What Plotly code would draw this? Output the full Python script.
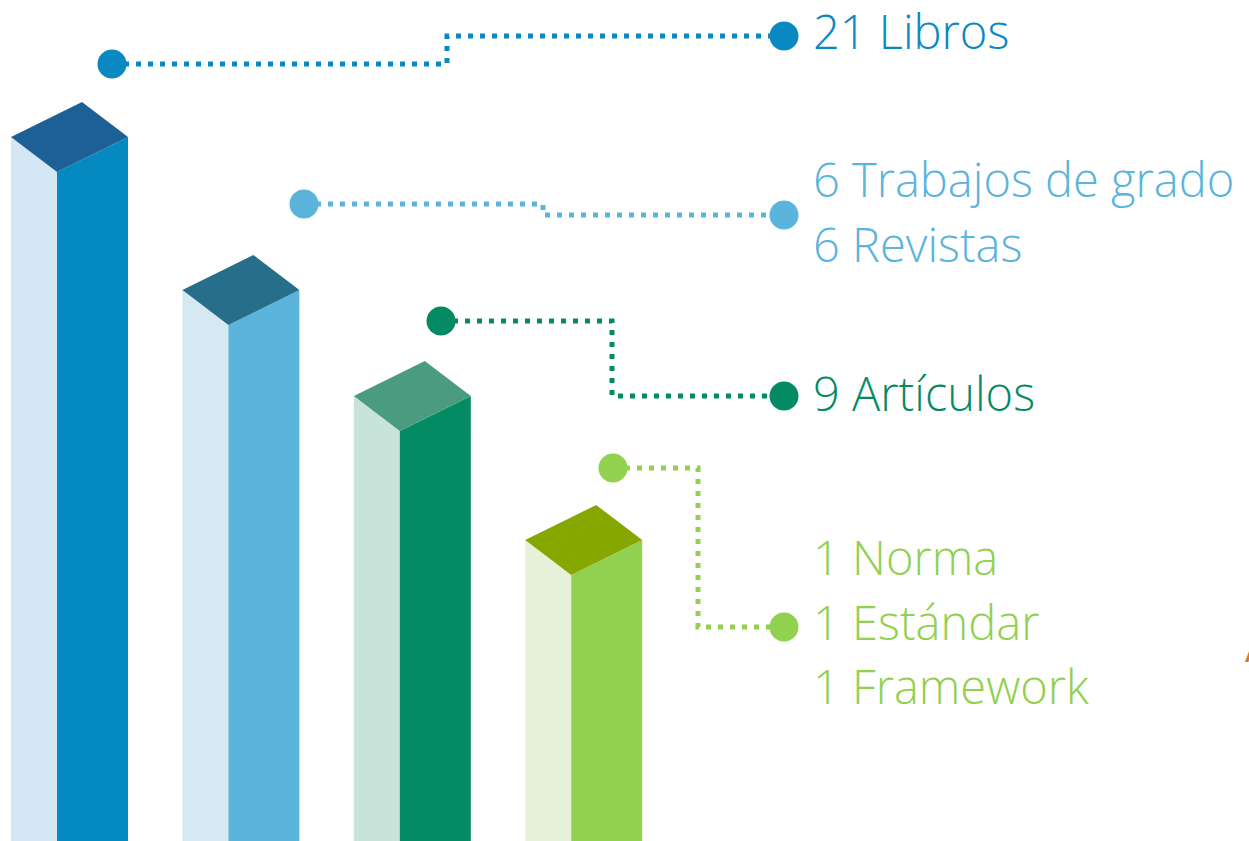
import plotly.graph_objects as go

# data
categories = ["Libros", "Trabajos de grado / Revistas", "Artículos", "Norma / Estándar / Framework"]
bar_levels = [704, 551, 445, 301]
label_lines = [
    ["21 Libros"],
    ["6 Trabajos de grado", "6 Revistas"],
    ["9 Artículos"],
    ["1 Norma", "1 Estándar", "1 Framework"],
]

# styles
side_colors = ["#D4E7F4", "#D5E9F2", "#C8E4DA", "#E5F2D8"]
front_colors = ["#0489C1", "#5AB4DC", "#058B63", "#92D050"]
top_colors = ["#1C6096", "#276E8A", "#4A9B80", "#86A700"]
label_colors = ["#0A88C2", "#5AB4DC", "#058B63", "#92D050"]

# layout geometry (pixel-like units, y up)
W, H = 1249, 841
x_start, x_step = 11, 171.4
side_w, front_w, depth = 46, 71, 35
start_dots = [(112, 777), (304, 637), (441, 520), (613, 373)]
elbow_x = [447, 543, 612, 698]
end_y = [805, 626, 445, 214]
end_x = 784
label_x = 811
label_y = [[810], [662, 597], [448], [284, 219, 155]]

fig = go.Figure()

for i, lvl in enumerate(bar_levels):
    x0 = x_start + i * x_step
    x1 = x0 + side_w
    x2 = x1 + front_w
    # light side face
    fig.add_trace(go.Scatter(
        x=[x0, x0, x1, x1, x0], y=[0, lvl, lvl - depth, 0, 0],
        fill="toself", fillcolor=side_colors[i], mode="lines",
        line=dict(width=0), hoverinfo="skip", showlegend=False))
    # front face
    fig.add_trace(go.Scatter(
        x=[x1, x1, x2, x2, x1], y=[0, lvl - depth, lvl, 0, 0],
        fill="toself", fillcolor=front_colors[i], mode="lines",
        line=dict(width=0), hoverinfo="skip", showlegend=False))
    # top
    fig.add_trace(go.Scatter(
        x=[x0, x0 + front_w, x2, x1, x0], y=[lvl, lvl + depth, lvl, lvl - depth, lvl],
        fill="toself", fillcolor=top_colors[i], mode="lines",
        line=dict(width=0), hoverinfo="skip", showlegend=False))

    # dotted connector
    sx, sy = start_dots[i]
    fig.add_trace(go.Scatter(
        x=[sx, elbow_x[i], elbow_x[i], end_x], y=[sy, sy, end_y[i], end_y[i]],
        mode="lines", line=dict(color=label_colors[i], width=5, dash="5px,7px"),
        hoverinfo="skip", showlegend=False))
    fig.add_trace(go.Scatter(
        x=[sx, end_x], y=[sy, end_y[i]], mode="markers",
        marker=dict(size=29, color=label_colors[i]),
        hoverinfo="skip", showlegend=False))

    for txt, ty in zip(label_lines[i], label_y[i]):
        fig.add_annotation(
            x=label_x, y=ty, text=txt, showarrow=False,
            xanchor="left", yanchor="middle",
            font=dict(family="Open Sans", size=47, color=label_colors[i], weight=300))

# cut-off orange glyph at right edge
fig.add_annotation(x=1243, y=195, text="A", showarrow=False, xanchor="left", yanchor="middle",
                   font=dict(family="Open Sans", size=40, color="#D9782A"))

fig.update_layout(
    width=W, height=H,
    margin=dict(l=0, r=0, t=0, b=0),
    paper_bgcolor="white", plot_bgcolor="white",
    xaxis=dict(range=[0, W], visible=False, fixedrange=True),
    yaxis=dict(range=[0, H], visible=False, fixedrange=True),
)

fig.write_html("out.html", config={"displayModeBar": False},
               post_script="document.body.style.margin='0';")
